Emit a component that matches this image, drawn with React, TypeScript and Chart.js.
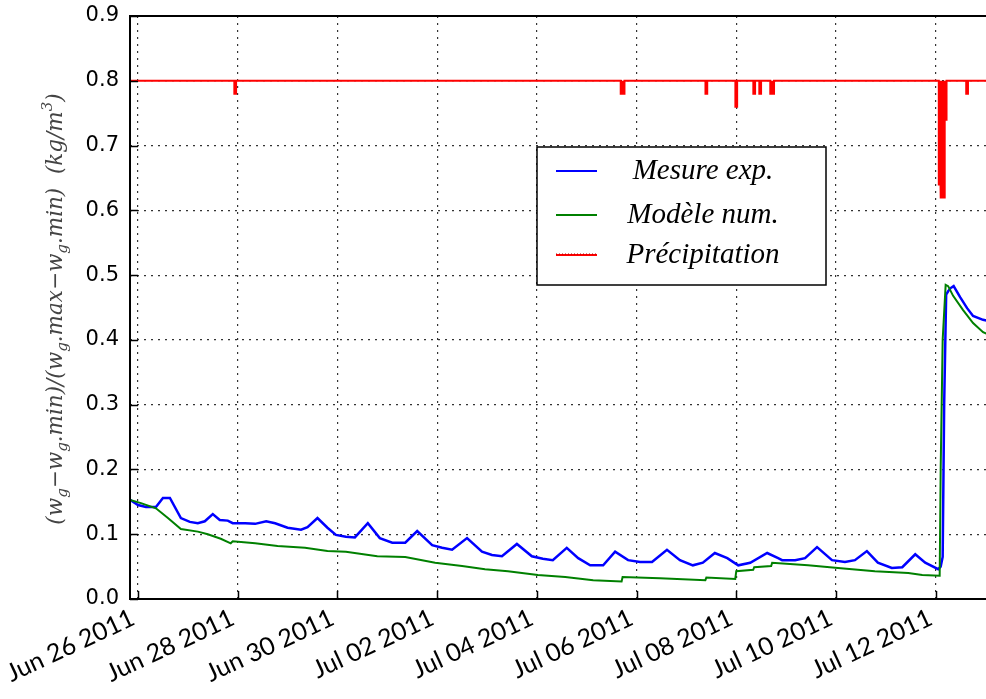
import React, { useEffect, useRef } from 'react';
import { Chart, registerables } from 'chart.js';

Chart.register(...registerables);

// x values: days since Jun 26 2011 00:00
const X_MIN = -0.1605;
const X_MAX = 17.29;
const X_TICK_DAYS = [0, 2, 4, 6, 8, 10, 12, 14, 16];
const Y_TICKS = [0, 0.1, 0.2, 0.3, 0.4, 0.5, 0.6, 0.7, 0.8, 0.9];
const MONTHS = ['Jan', 'Feb', 'Mar', 'Apr', 'May', 'Jun', 'Jul', 'Aug', 'Sep', 'Oct', 'Nov', 'Dec'];

const SERIES_LABELS = ['Mesure exp.', 'Modèle num.', 'Précipitation'];
const SERIES_COLORS = ['#0000ff', '#008000', '#ff0000'];

const measDays = [
  -0.16, 0.0, 0.16, 0.36, 0.5, 0.64, 0.86, 1.04, 1.2, 1.34, 1.5, 1.64, 1.8, 1.9, 2.15, 2.35, 2.57, 2.75,
  3.0, 3.27, 3.4, 3.6, 3.8, 3.97, 4.17, 4.35, 4.61, 4.85, 5.1, 5.36, 5.6, 5.9, 6.1, 6.3, 6.6, 6.9, 7.1,
  7.3, 7.6, 7.9, 8.12, 8.32, 8.6, 8.83, 9.07, 9.33, 9.57, 9.83, 10.07, 10.31, 10.61, 10.87, 11.13, 11.33,
  11.57, 11.82, 12.04, 12.28, 12.62, 12.84, 12.92, 13.18, 13.38, 13.62, 13.92, 14.18, 14.38, 14.62, 14.84,
  15.12, 15.33, 15.59, 15.79, 16.05, 16.1, 16.14, 16.17, 16.21, 16.25, 16.3, 16.36, 16.49, 16.63, 16.75,
  16.95, 17.3,
];
const measValues = [
  0.153, 0.145, 0.142, 0.142, 0.156, 0.156, 0.125, 0.119, 0.117, 0.12, 0.131, 0.122, 0.121, 0.117, 0.117,
  0.116, 0.12, 0.117, 0.11, 0.107, 0.111, 0.125, 0.11, 0.099, 0.096, 0.095, 0.117, 0.094, 0.087, 0.087,
  0.105, 0.083, 0.079, 0.076, 0.094, 0.073, 0.068, 0.066, 0.085, 0.066, 0.062, 0.06, 0.079, 0.063, 0.052,
  0.052, 0.073, 0.06, 0.057, 0.057, 0.076, 0.06, 0.052, 0.056, 0.071, 0.063, 0.052, 0.056, 0.071, 0.063,
  0.06, 0.06, 0.063, 0.08, 0.06, 0.057, 0.06, 0.074, 0.056, 0.048, 0.049, 0.069, 0.056, 0.046, 0.05,
  0.065, 0.3, 0.47, 0.475, 0.48, 0.483, 0.466, 0.449, 0.437, 0.431, 0.425,
];

const modelDays = [
  -0.16, 0.06, 0.36, 0.6, 0.86, 1.2, 1.4, 1.66, 1.86, 1.9, 2.35, 2.8, 3.35, 3.8, 4.17, 4.8, 5.36, 5.96,
  6.5, 6.96, 7.42, 8.02, 8.57, 9.13, 9.7, 9.72, 10.47, 11.38, 11.4, 11.98, 12.0, 12.34, 12.36, 12.7, 12.72,
  13.44, 14.04, 14.78, 15.45, 15.73, 16.08, 16.1, 16.14, 16.2, 16.25, 16.35, 16.55, 16.75, 16.95, 17.3,
];
const modelValues = [
  0.153, 0.148, 0.14, 0.125, 0.108, 0.104, 0.1, 0.093, 0.086, 0.089, 0.086, 0.082, 0.079, 0.074, 0.073,
  0.066, 0.065, 0.056, 0.051, 0.046, 0.043, 0.037, 0.034, 0.029, 0.027, 0.034, 0.032, 0.029, 0.033, 0.031,
  0.043, 0.045, 0.049, 0.051, 0.056, 0.052, 0.048, 0.043, 0.04, 0.037, 0.036, 0.2, 0.4, 0.485, 0.483,
  0.468, 0.446, 0.426, 0.412, 0.4,
];

const RAIN_BASE = 0.8;
const RAIN_BIN = 0.035; // days
const rainDays = [1.95, 9.7, 9.74, 11.4, 12.0, 12.36, 12.48, 12.7, 12.74, 16.08, 16.12, 16.16, 16.2, 16.63];
const rainLevels = [0.78, 0.78, 0.78, 0.78, 0.76, 0.78, 0.78, 0.78, 0.78, 0.64, 0.62, 0.62, 0.74, 0.78];

function dayLabel(v: number): string {
  const d = new Date(Date.UTC(2011, 5, 26 + Math.round(v)));
  return `${MONTHS[d.getUTCMonth()]} ${String(d.getUTCDate()).padStart(2, '0')} ${d.getUTCFullYear()}`;
}

function zip(xs: number[], ys: number[]) {
  return xs.map((x, i) => ({ x, y: ys[i] }));
}

function rainSeries() {
  const pts: { x: number; y: number }[] = [{ x: X_MIN, y: RAIN_BASE }];
  rainDays.forEach((d, i) => {
    const a = d - RAIN_BIN / 2;
    const b = d + RAIN_BIN / 2;
    pts.push({ x: a, y: RAIN_BASE }, { x: a, y: rainLevels[i] }, { x: b, y: rainLevels[i] }, { x: b, y: RAIN_BASE });
  });
  pts.push({ x: X_MAX, y: RAIN_BASE });
  return pts;
}

const TITLE_SEGS = [
  { t: '(w' }, { t: 'g', sub: true }, { t: '−w' }, { t: 'g', sub: true }, { t: '.min)/(w' },
  { t: 'g', sub: true }, { t: '.max−w' }, { t: 'g', sub: true }, { t: '.min)  (kg/m' },
  { t: '3', sup: true }, { t: ')' },
];

const decorPlugin = {
  id: 'decor',
  afterDraw(chart: any) {
    const ctx = chart.ctx as CanvasRenderingContext2D;
    const area = chart.chartArea;
    const xs = chart.scales.x;
    const ys = chart.scales.y;
    ctx.save();
    // inward ticks
    ctx.strokeStyle = '#000';
    ctx.lineWidth = 1.5;
    ctx.beginPath();
    X_TICK_DAYS.forEach((d) => {
      const px = Math.round(xs.getPixelForValue(d)) + 0.5;
      ctx.moveTo(px, area.bottom);
      ctx.lineTo(px, area.bottom - 8);
    });
    Y_TICKS.forEach((v) => {
      const py = Math.round(ys.getPixelForValue(v)) + 0.5;
      ctx.moveTo(area.left, py);
      ctx.lineTo(area.left + 8, py);
    });
    ctx.stroke();
    // frame
    ctx.lineWidth = 2;
    ctx.strokeRect(area.left, area.top, area.right - area.left, area.bottom - area.top);

    // legend box
    const L = { left: 537, top: 147, right: 826, bottom: 285 };
    ctx.fillStyle = '#fff';
    ctx.fillRect(L.left, L.top, L.right - L.left, L.bottom - L.top);
    ctx.lineWidth = 1.5;
    ctx.strokeStyle = '#000';
    ctx.strokeRect(L.left, L.top, L.right - L.left, L.bottom - L.top);
    const rows = [171, 215, 255];
    ctx.font = 'italic 29px "Liberation Serif"';
    ctx.textAlign = 'center';
    ctx.textBaseline = 'middle';
    SERIES_LABELS.forEach((lab, i) => {
      ctx.strokeStyle = SERIES_COLORS[i];
      ctx.lineWidth = 2;
      ctx.beginPath();
      ctx.moveTo(556, rows[i]);
      ctx.lineTo(597, rows[i]);
      ctx.stroke();
      if (i === 2) {
        ctx.strokeStyle = '#b00000';
        ctx.lineWidth = 1;
        ctx.setLineDash([1, 2]);
        ctx.beginPath();
        ctx.moveTo(556, rows[i] - 1);
        ctx.lineTo(597, rows[i] - 1);
        ctx.stroke();
        ctx.setLineDash([]);
      }
      ctx.fillStyle = '#000';
      ctx.fillText(lab, 703, rows[i]);
    });

    // y axis title with subscripts
    const big = 21.5;
    const small = 15;
    const fam = '"DejaVu Serif"';
    const widths = TITLE_SEGS.map((s) => {
      ctx.font = `italic ${s.sub || s.sup ? small : big}px ${fam}`;
      return ctx.measureText(s.t).width;
    });
    const total = widths.reduce((a, b) => a + b, 0);
    ctx.translate(62, 309);
    ctx.rotate(-Math.PI / 2);
    ctx.textAlign = 'left';
    ctx.textBaseline = 'alphabetic';
    ctx.fillStyle = '#444';
    let cx = -total / 2;
    TITLE_SEGS.forEach((s, i) => {
      ctx.font = `italic ${s.sub || s.sup ? small : big}px ${fam}`;
      const dy = s.sub ? 5 : s.sup ? -10 : 0;
      ctx.fillText(s.t, cx, dy);
      cx += widths[i];
    });
    ctx.restore();
  },
};

export default function App() {
  const ref = useRef<HTMLCanvasElement | null>(null);
  useEffect(() => {
    if (!ref.current) return;
    const chart = new Chart(ref.current, {
      type: 'line',
      data: {
        datasets: [
          {
            label: SERIES_LABELS[0],
            data: zip(measDays, measValues),
            borderColor: SERIES_COLORS[0],
            borderWidth: 2.5,
            pointRadius: 0,
            tension: 0,
            order: 3,
          },
          {
            label: SERIES_LABELS[1],
            data: zip(modelDays, modelValues),
            borderColor: SERIES_COLORS[1],
            borderWidth: 2,
            pointRadius: 0,
            tension: 0,
            order: 2,
          },
          {
            label: SERIES_LABELS[2],
            data: rainSeries(),
            borderColor: SERIES_COLORS[2],
            borderWidth: 2,
            pointRadius: 0,
            tension: 0,
            order: 1,
          },
        ],
      },
      options: {
        animation: false,
        responsive: false,
        maintainAspectRatio: false,
        layout: { padding: { left: 0, top: 16, right: 10, bottom: 0 } },
        plugins: { legend: { display: false }, tooltip: { enabled: false } },
        scales: {
          x: {
            type: 'linear',
            min: X_MIN,
            max: X_MAX,
            afterBuildTicks: (scale: any) => {
              scale.ticks = X_TICK_DAYS.map((v) => ({ value: v }));
            },
            afterFit: (scale: any) => {
              scale.height = 100;
              scale.paddingLeft = 0;
              scale.paddingRight = 0;
            },
            ticks: {
              autoSkip: false,
              minRotation: 25,
              maxRotation: 25,
              padding: 4,
              labelOffset: -5,
              color: '#000',
              font: { family: 'Lato', size: 25 },
              callback: (v: any) => dayLabel(Number(v)),
            },
            grid: { color: '#333', lineWidth: 1.2, drawTicks: false },
            border: { display: false, dash: [2, 5] },
          },
          y: {
            type: 'linear',
            min: 0,
            max: 0.9,
            afterBuildTicks: (scale: any) => {
              scale.ticks = Y_TICKS.map((v) => ({ value: v }));
            },
            afterFit: (scale: any) => {
              scale.width = 130;
              scale.paddingTop = 0;
              scale.paddingBottom = 0;
            },
            ticks: {
              padding: 11,
              color: '#000',
              font: { family: 'DejaVu Sans', size: 21 },
              callback: (v: any) => Number(v).toFixed(1),
            },
            grid: { color: '#333', lineWidth: 1.2, drawTicks: false },
            border: { display: false, dash: [2, 5] },
          },
        },
      },
      plugins: [decorPlugin],
    });
    return () => chart.destroy();
  }, []);
  return (
    <div
      style={{
        position: 'fixed',
        left: 0,
        top: 0,
        width: 986,
        height: 699,
        overflow: 'hidden',
        background: '#fff',
      }}
    >
      <canvas ref={ref} width={1010} height={699} style={{ display: 'block' }} />
    </div>
  );
}
